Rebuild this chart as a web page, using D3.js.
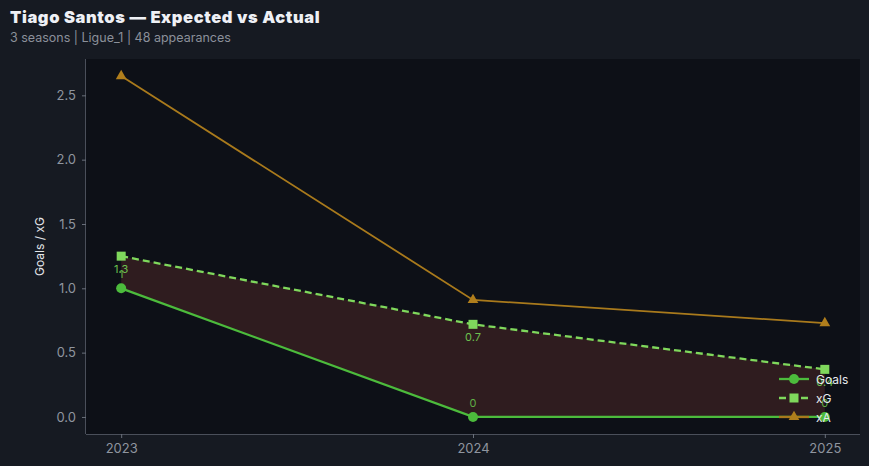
<html>
<head>
<script src="https://d3js.org/d3.v7.min.js"></script>
<style>
  body { margin: 0; background: #161a22; }
  text { font-family: Inter, "DejaVu Sans", sans-serif; }
</style>
</head>
<body>
<svg id="chart" width="869" height="466"></svg>
<script>
const seasons = [2023, 2024, 2025]
const goals = [1, 0, 0]
const xg = [1.25, 0.72, 0.37]
const xa = [2.65, 0.91, 0.73]
const yTicks = [0, 0.5, 1.0, 1.5, 2.0, 2.5]

const svg = d3.select('svg#chart')
const width = +svg.attr('width')
const height = +svg.attr('height')
const margins = {top: 59, left: 86, bottom: 32, right: 9}
const chartWidth = width - margins.left - margins.right
const chartHeight = height - margins.top - margins.bottom

svg.append('rect').attr('width', width).attr('height', height).attr('fill', '#161a22')

svg.append('text').attr('x', 10).attr('y', 23)
   .attr('font-size', 16.5).attr('font-weight', 900).attr('letter-spacing', 0.6).attr('fill', '#eef0f5')
   .text('Tiago Santos — Expected vs Actual')
svg.append('text').attr('x', 10).attr('y', 42)
   .attr('font-size', 12.5).attr('fill', '#8b909a')
   .text('3 seasons | Ligue_1 | 48 appearances')

const chart = svg.append('g').attr('transform', `translate(${margins.left},${margins.top})`)
chart.append('rect').attr('width', chartWidth).attr('height', chartHeight).attr('fill', '#0d1017')

const xScale = d3.scaleLinear().domain([2022.9, 2025.1]).range([0, chartWidth])
const ymax = 2.65
const yScale = d3.scaleLinear().domain([-0.05 * ymax, ymax * 1.05]).range([chartHeight, 0])

const rows = seasons.map((s, i) => ({s: s, g: goals[i], xg: xg[i], xa: xa[i]}))

// shaded gap between goals and xG
chart.append('path').datum(rows)
  .attr('d', d3.area().x(d => xScale(d.s)).y0(d => yScale(d.g)).y1(d => yScale(d.xg)))
  .attr('fill', '#2f1c1f')

const line = key => d3.line().x(d => xScale(d.s)).y(d => yScale(d[key]))

chart.append('path').datum(rows).attr('d', line('xa'))
  .attr('fill', 'none').attr('stroke', '#a97a1c').attr('stroke-width', 1.8)
chart.append('path').datum(rows).attr('d', line('xg'))
  .attr('fill', 'none').attr('stroke', '#7fd85c').attr('stroke-width', 2.3).attr('stroke-dasharray', '7,4')
chart.append('path').datum(rows).attr('d', line('g'))
  .attr('fill', 'none').attr('stroke', '#4cbb3c').attr('stroke-width', 2.3)

const tri = d3.symbol().type(d3.symbolTriangle).size(50)
chart.selectAll('path.xa').data(rows).join('path').attr('class', 'xa')
  .attr('d', tri).attr('transform', d => `translate(${xScale(d.s)},${yScale(d.xa)})`).attr('fill', '#b07e1c')
chart.selectAll('rect.xg').data(rows).join('rect').attr('class', 'xg')
  .attr('x', d => xScale(d.s) - 4.5).attr('y', d => yScale(d.xg) - 4.5)
  .attr('width', 9).attr('height', 9).attr('fill', '#7fd85c')
chart.selectAll('circle.g').data(rows).join('circle').attr('class', 'g')
  .attr('cx', d => xScale(d.s)).attr('cy', d => yScale(d.g)).attr('r', 5).attr('fill', '#4cbb3c')

// value labels
chart.selectAll('text.gl').data(rows).join('text').attr('class', 'gl')
  .attr('x', d => xScale(d.s)).attr('y', d => yScale(d.g) - 10)
  .attr('text-anchor', 'middle').attr('font-size', 11).attr('fill', '#5fae45')
  .text(d => d3.format('.1~f')(d.g))
chart.selectAll('text.xl').data(rows).join('text').attr('class', 'xl')
  .attr('x', d => xScale(d.s)).attr('y', d => yScale(d.xg) + 17)
  .attr('text-anchor', 'middle').attr('font-size', 11).attr('fill', '#6cc04e')
  .text(d => d3.format('.1f')(d.xg))

// axes
const xAxis = chart.append('g').attr('transform', `translate(0,${chartHeight})`)
  .call(d3.axisBottom(xScale).tickValues(seasons).tickFormat(d3.format('d')).tickSize(4).tickPadding(6))
const yAxis = chart.append('g')
  .call(d3.axisLeft(yScale).tickValues(yTicks).tickFormat(d3.format('.1f')).tickSize(4).tickPadding(6))
;[xAxis, yAxis].forEach(a => {
  a.select('.domain').attr('stroke', '#4a4f5a')
  a.selectAll('.tick line').attr('stroke', '#6a707b')
  a.selectAll('.tick text').attr('fill', '#8f959f').attr('font-size', 13)
})
xAxis.select('.domain').attr('d', `M0,0.5H${chartWidth}`)
yAxis.select('.domain').attr('d', `M-0.5,${chartHeight}V0`)

svg.append('text').attr('transform', `translate(44,${margins.top + chartHeight / 2}) rotate(-90)`)
  .attr('text-anchor', 'middle').attr('font-size', 12).attr('fill', '#e4e6ea').text('Goals / xG')

// legend
const legend = [
  {name: 'Goals', color: '#4cbb3c', dash: null, mark: 'circle'},
  {name: 'xG', color: '#7fd85c', dash: '7,4', mark: 'square'},
  {name: 'xA', color: '#a97a1c', dash: null, mark: 'triangle'}
]
const lg = svg.append('g').attr('transform', 'translate(779,379)')
legend.forEach((d, i) => {
  const row = lg.append('g').attr('transform', `translate(0,${i * 19})`)
  row.append('line').attr('x1', 0).attr('x2', 30).attr('stroke', d.color)
    .attr('stroke-width', 2.3).attr('stroke-dasharray', d.dash)
  if (d.mark === 'circle') row.append('circle').attr('cx', 15).attr('r', 5).attr('fill', d.color)
  if (d.mark === 'square') row.append('rect').attr('x', 10.5).attr('y', -4.5).attr('width', 9).attr('height', 9).attr('fill', d.color)
  if (d.mark === 'triangle') row.append('path').attr('d', tri).attr('transform', 'translate(15,0)').attr('fill', '#b07e1c')
  row.append('text').attr('x', 37).attr('y', 4.5).attr('font-size', 12).attr('fill', '#e8eaee').text(d.name)
})
</script>
</body>
</html>
